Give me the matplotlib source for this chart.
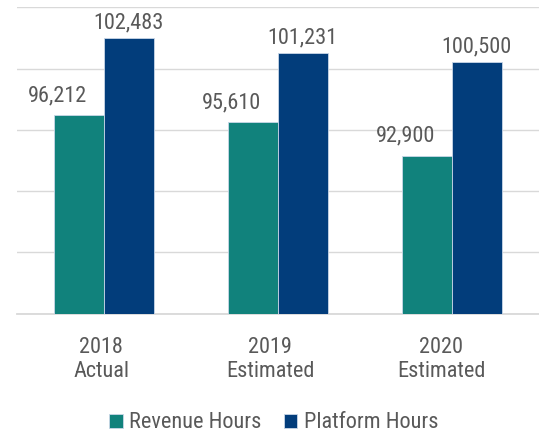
import matplotlib.pyplot as plt
import matplotlib.transforms as mtransforms
import numpy as np
from matplotlib.ticker import MultipleLocator

# data
categories = ['2018\nActual', '2019\nEstimated', '2020\nEstimated']
revenue_hours = [96212, 95610, 92900]
platform_hours = [102483, 101231, 100500]

plt.rcParams['font.family'] = ['Roboto Condensed', 'DejaVu Sans']

teal = '#11827C'
navy = '#023D7B'
gray_txt = '#595959'
grid_col = '#D9D9D9'

fig = plt.figure(figsize=(5.39, 4.33), dpi=100)
ax = fig.add_axes([17 / 539, 1 - 313.7 / 433, 1 - 17 / 539, (313.7 - 7.3) / 433])

x = np.arange(len(categories))
w = 0.285
b1 = ax.bar(x - w / 2, revenue_hours, w, color=teal, edgecolor='#C9D7E8', linewidth=0.6,
            label='Revenue Hours', zorder=3)
b2 = ax.bar(x + w / 2, platform_hours, w, color=navy, edgecolor='#C9D7E8', linewidth=0.6,
            label='Platform Hours', zorder=3)

ax.set_ylim(80000, 105000)
ax.set_xlim(-0.5, 2.5)
ax.yaxis.set_major_locator(MultipleLocator(5000))
ax.grid(axis='y', color=grid_col, linewidth=1.0, zorder=0)
ax.tick_params(axis='y', length=0, labelleft=False)
ax.tick_params(axis='x', length=0, pad=17, labelsize=16, labelcolor=gray_txt)
for s in ['top', 'right', 'left']:
    ax.spines[s].set_visible(False)
ax.spines['bottom'].set_color(grid_col)
ax.spines['bottom'].set_linewidth(1.3)
ax.set_xticks(x)
ax.set_xticklabels(categories, linespacing=1.15)

# the category labels sit a little left of the bar groups in the original
for lbl, dx in zip(ax.get_xticklabels(), [-3, -8, -11]):
    lbl.set_transform(lbl.get_transform() +
                      mtransforms.ScaledTranslation(dx / 100, 0, fig.dpi_scale_trans))

# value labels
for rect, v in zip(b1, revenue_hours):
    ax.annotate(f'{v:,}', (rect.get_x() + rect.get_width(), v), xytext=(-12, 10),
                textcoords='offset points', ha='right', va='baseline',
                fontsize=16, color=gray_txt)
for rect, v in zip(b2, platform_hours):
    ax.annotate(f'{v:,}', (rect.get_x() + rect.get_width() / 2, v), xytext=(0, 7),
                textcoords='offset points', ha='center', va='baseline',
                fontsize=16, color=gray_txt)

fig.legend(loc='center', bbox_to_anchor=(274 / 539, 1 - 423 / 433), ncol=2, frameon=False,
           fontsize=16, labelcolor=gray_txt, handlelength=0.6, handleheight=0.6,
           handletextpad=0.3, columnspacing=1.0, borderpad=0)

fig.savefig('out.png', dpi=100)
